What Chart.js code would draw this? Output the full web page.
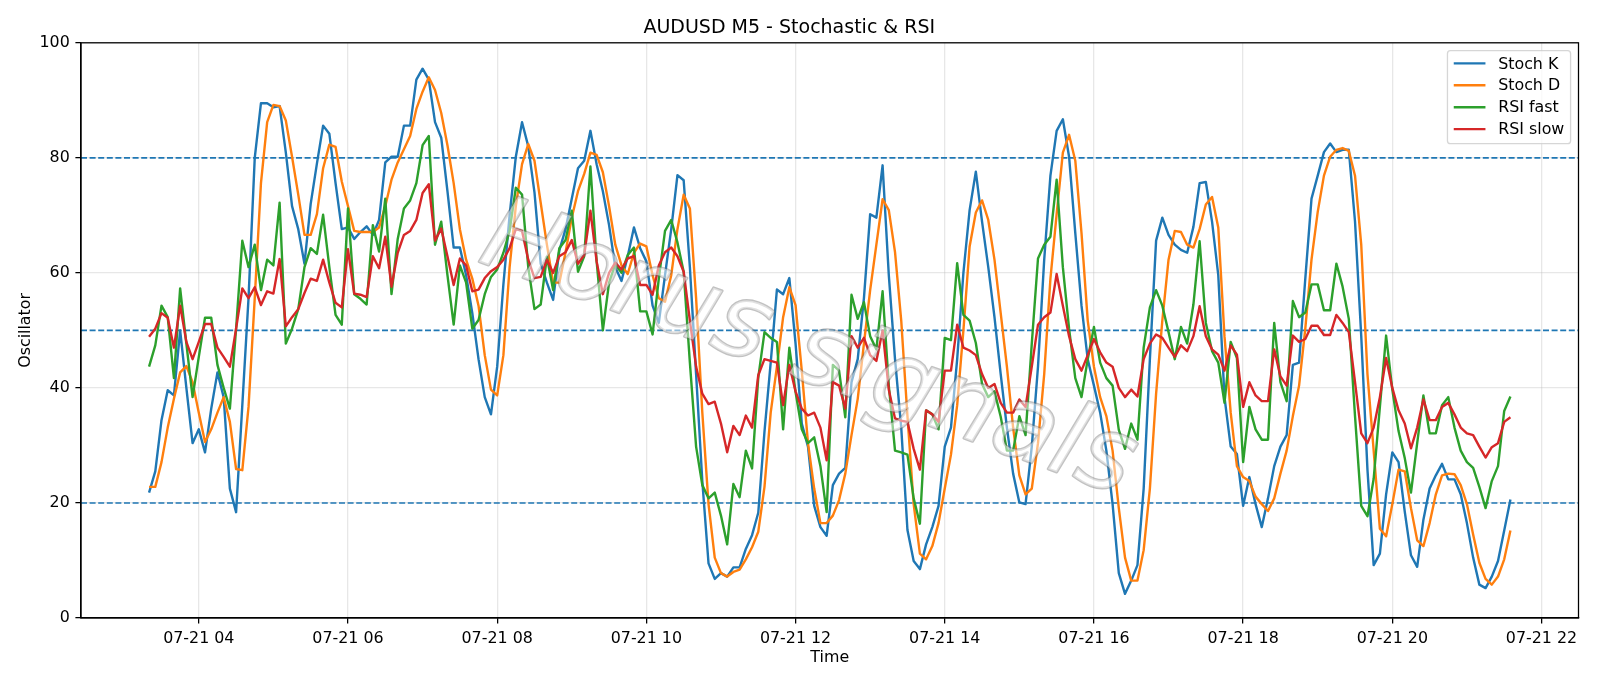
<!DOCTYPE html>
<html>
<head>
<meta charset="utf-8">
<title>AUDUSD M5 - Stochastic & RSI</title>
<script src="https://cdn.jsdelivr.net/npm/chart.js@4.4.1/dist/chart.umd.min.js"></script>
<style>
  html, body { margin: 0; padding: 0; background: #fff; }
  #wrap { width: 1600px; height: 686px; }
</style>
</head>
<body>
<div id="wrap"><canvas id="oscChart" width="1600" height="686"></canvas></div>
<script>
// 5 minute bars, first bar 07-21 03:20
const startHour = 3 + 20 / 60;
const barMinutes = 5;

const stochK = [
    21.8, 25.5, 34.4, 39.6, 38.7, 50, 40, 30.4, 32.8, 28.8,
    36.4, 42.7, 38.4, 22.5, 18.4, 37, 55.6, 80, 89.5, 89.5,
    88.8, 89, 80.9, 71.6, 67.6, 61.6, 72, 79, 85.6, 84.2,
    75.6, 67.6, 67.9, 65.9, 67.1, 68.1, 66.6, 69.2, 79.2, 80.2,
    80.2, 85.6, 85.6, 93.6, 95.5, 93.6, 86.2, 83.5, 74.2, 64.4,
    64.4, 59.6, 53, 45, 38.4, 35.4, 43.7, 58, 70, 80.2,
    86.2, 82, 74, 61.6, 58.3, 55.3, 63.9, 67.6, 72.9, 78.2,
    79.5, 84.7, 78.9, 74.2, 68.3, 61, 58.6, 62.9, 67.9, 64.3,
    62, 54.3, 51.3, 59.6, 67.6, 77, 76.1, 61, 42.4, 23.8,
    9.5, 6.8, 7.8, 7.2, 8.8, 8.8, 12, 14.4, 18.3, 32.4,
    44.4, 57.1, 56.3, 59.1, 47.7, 33.8, 29.8, 19.5, 15.8, 14.3,
    23.1, 25.1, 26.1, 41, 45, 55.6, 70.2, 69.6, 78.7, 59.6,
    45, 33.1, 15.3, 9.9, 8.5, 12.8, 15.8, 19.5, 29.8, 33.1,
    45, 60, 70.9, 77.6, 68.9, 61, 52.3, 42.4, 33.1, 25.1,
    20.1, 19.8, 29.8, 43.7, 62.3, 76.9, 84.7, 86.7, 80.2, 66.9,
    54.3, 45, 40.4, 35.7, 29.1, 19.8, 7.8, 4.2, 6.5, 9.2,
    22.5, 45, 65.6, 69.6, 66.6, 64.9, 64, 63.5, 68, 75.6,
    75.8, 68.9, 59.6, 38.4, 29.8, 28.5, 19.5, 24.5, 19.8, 15.8,
    20.8, 26.4, 29.8, 31.8, 44, 44.4, 59, 72.9, 76.9, 81,
    82.5, 81, 81.4, 81.4, 68.9, 49, 25.8, 9.2, 11.2, 21.5,
    28.8, 27.1, 18.5, 10.9, 8.9, 17.1, 22.5, 24.8, 26.8, 24.1,
    24.1, 21.5, 16.5, 10.5, 5.8, 5.2, 7.2, 9.9, 15.2, 20.6
];

const stochD = [
    22.8, 22.8, 27.1, 33.1, 38.1, 42.7, 43.8, 41, 35.7, 30.6,
    32.8, 35.7, 38.4, 34.1, 25.9, 25.7, 36.7, 55.6, 75.6, 86.2,
    89.2, 89, 86.5, 80.2, 73.6, 66.6, 66.6, 70.2, 78.2, 82.3,
    81.9, 75.9, 71.6, 67.3, 67.1, 67.1, 67.1, 67.9, 71.6, 76.2,
    79.2, 81.5, 83.8, 88.5, 91.5, 94, 91.8, 87.8, 82.2, 75.6,
    67.6, 62.3, 59, 54.3, 45.7, 39.7, 38.7, 45.7, 61, 71.6,
    78.9, 82.4, 79.5, 72.2, 64.9, 58.3, 58.3, 63.6, 69.6, 74.2,
    77.2, 80.9, 80.5, 77.5, 71.6, 64.9, 61.3, 59.8, 63.5, 65.1,
    64.6, 59.6, 55.6, 55, 59.6, 67.6, 73.6, 71.2, 55.6, 35.7,
    19.8, 10.5, 7.8, 7.2, 8, 8.4, 10.2, 12.3, 15, 22.8,
    35.7, 43.7, 52.3, 57.5, 54.4, 43, 30.4, 22.5, 16.5, 16.5,
    17.8, 20.5, 25.1, 31.8, 38.1, 47.7, 57, 64.9, 72.8, 70.9,
    63.6, 51.7, 35.1, 19.8, 11.2, 10.2, 12.5, 16.5, 22.5, 28.4,
    37, 50, 64.6, 70.5, 72.6, 69.2, 62.3, 53, 43.7, 33.1,
    24.8, 21.5, 22.5, 30.4, 42.4, 59, 70.2, 80.9, 84, 79.5,
    66.9, 51.7, 43.7, 38.4, 35.1, 29.1, 19.1, 10.5, 6.5, 6.5,
    11.8, 22.5, 39, 51.7, 62.3, 67.3, 67.1, 64.9, 64.4, 67.6,
    71.9, 73.2, 67.9, 49, 35.7, 26.4, 24.5, 23.8, 21.1, 19.8,
    18.6, 20.8, 25.1, 29.1, 35.1, 40.4, 50.3, 62.3, 70.6, 76.9,
    80.2, 81.4, 81.7, 81.2, 76.9, 64.9, 42.4, 29.1, 15.5, 14.2,
    19.8, 25.8, 25.5, 19.1, 13.5, 12.5, 16.5, 21.5, 24.8, 25.1,
    25, 23.1, 19.8, 14.5, 9.6, 6.8, 5.8, 7.2, 10.2, 15.2
];

const rsiFast = [
    43.7, 47.4, 54.3, 52.3, 41.7, 57.3, 47.7, 38.4, 45.4, 52.2,
    52.2, 44, 40, 36.4, 50.3, 65.6, 61, 64.9, 57, 62.3,
    61.3, 72.2, 47.7, 50.3, 53.7, 61, 64.3, 63.3, 70.1, 61,
    52.7, 51, 71.2, 56.3, 55.5, 54.5, 68.3, 63.7, 72.9, 56.3,
    65.9, 71.2, 72.6, 75.6, 82.2, 83.8, 64.9, 68.9, 59.6, 51,
    61.3, 58.3, 50.3, 51.8, 56.3, 59.3, 60.6, 63.5, 67.3, 74.8,
    73.6, 61, 53.7, 54.5, 62.8, 57, 64.3, 65.7, 70.8, 60.2,
    62.9, 78.5, 62, 50, 58.3, 61.5, 60, 63.1, 64.4, 53.3,
    53.3, 49.3, 59, 67.3, 69.2, 65.3, 60.2, 44.4, 29.8, 23.1,
    20.8, 21.8, 17.8, 12.8, 23.3, 21, 29.1, 26, 41.8, 49.7,
    48.7, 48, 32.8, 47, 39.3, 32.8, 30.4, 31.4, 26.4, 18.4,
    44, 43, 34.9, 56.2, 52, 54.9, 49, 46.7, 56.8, 40.4,
    29.1, 28.8, 28.4, 20.8, 16.4, 36.1, 35.4, 32.8, 48.7, 48.3,
    61.7, 52.7, 51.7, 47.8, 40.7, 38.4, 39.4, 35, 29.1, 29.1,
    35.1, 31.8, 47.7, 62.5, 64.9, 66.3, 76.2, 61, 50.3, 41.7,
    38.4, 45, 50.6, 44.4, 41.7, 40.4, 32.7, 29.4, 33.8, 31,
    47, 54, 57, 54.3, 49.7, 45, 50.6, 47.7, 54.5, 65.5,
    51.3, 46.4, 44.4, 37.4, 48, 45.2, 27.1, 36.7, 32.8, 31,
    31, 51.3, 41, 37.7, 55.1, 52.3, 53.1, 58, 58, 53.5,
    53.5, 61.6, 57.6, 52, 35.1, 19.5, 17.7, 24.2, 36.7, 49.1,
    39.7, 32.5, 27.8, 21.8, 30.4, 38.7, 32.1, 32.1, 37, 38.4,
    33.1, 29.1, 27.1, 26.1, 22.8, 19.1, 23.8, 26.4, 36, 38.5
];

const rsiSlow = [
    48.9, 50.3, 53, 52.2, 47, 54.3, 48, 45, 48, 51.1,
    51.1, 47, 45.4, 43.7, 50.3, 57.3, 55.6, 57.5, 54.4, 56.8,
    56.4, 62.4, 50.7, 52.3, 53.7, 56.5, 59, 58.6, 62.3, 58.3,
    54.8, 54, 64.1, 56.4, 56.2, 55.8, 62.9, 60.8, 66.3, 57.6,
    63.5, 66.6, 67.3, 69.2, 73.9, 75.4, 65.6, 67.7, 62.9, 57.9,
    62.5, 61.3, 56.8, 57.1, 59.1, 60.3, 61, 62.3, 64.3, 67.6,
    67.3, 62.3, 59.1, 59.3, 62.3, 60, 62.9, 63.6, 65.7, 61.6,
    63.1, 70.8, 62, 56.3, 60, 61.8, 60.6, 62.5, 62.9, 57.9,
    57.9, 56.2, 61.3, 63.6, 64.4, 62.9, 60.2, 51.7, 43.7, 39,
    37.2, 37.6, 33.8, 28.8, 33.4, 31.8, 35.2, 33.1, 42.2, 45,
    44.7, 44.4, 37, 44, 39.4, 36.4, 35.2, 35.7, 33.1, 27.4,
    41, 40.4, 36.4, 49, 47, 48.7, 45.7, 44.7, 50, 39.7,
    34.7, 34.3, 34.1, 29.4, 25.8, 36.1, 35.4, 34.1, 43, 43,
    51, 47, 46.5, 45.7, 42.4, 40, 40.7, 37.4, 35.7, 35.7,
    38, 36.7, 43.7, 51, 52.3, 53.1, 59.8, 54.3, 49, 45,
    43, 45.7, 48.5, 46.2, 44.4, 43.7, 40, 38.4, 39.7, 38.5,
    45, 47.7, 49.3, 48.7, 47, 45.4, 47.4, 46.4, 49, 54.2,
    49, 46.7, 45.8, 43, 47.4, 45.8, 36.7, 41, 38.7, 37.7,
    37.7, 46.7, 42, 40.4, 49.1, 48, 48.5, 50.8, 50.8, 49.2,
    49.2, 52.7, 51.3, 49.7, 41, 32.1, 30.4, 33.1, 38.4, 45.2,
    40, 36.1, 33.8, 29.5, 33.1, 38, 34.4, 34.4, 36.7, 37.4,
    35.4, 33.1, 32.1, 31.8, 29.8, 27.9, 29.7, 30.4, 34.1, 34.9
];

const levels = [20, 50, 80];
const xTickHours = [4, 6, 8, 10, 12, 14, 16, 18, 20, 22];
const xTickLabels = ['07-21 04', '07-21 06', '07-21 08', '07-21 10', '07-21 12',
                     '07-21 14', '07-21 16', '07-21 18', '07-21 20', '07-21 22'];

const FONT = '"DejaVu Sans", "Liberation Sans", sans-serif';
const GRID = 'rgba(176, 176, 176, 0.3)';

// bar index -> hour of day
function toPoints(values) {
    return values.map((v, i) => ({ x: startHour + i * barMinutes / 60, y: v }));
}

// same 5% side margins matplotlib puts around the data
const lastHour = startHour + (stochK.length - 1) * barMinutes / 60;
const margin = (lastHour - startHour) * 0.05;
const xMin = startHour - margin;
const xMax = lastHour + margin;

const series = [
    { label: 'Stoch K', values: stochK, color: '#1f77b4' },
    { label: 'Stoch D', values: stochD, color: '#ff7f0e' },
    { label: 'RSI fast', values: rsiFast, color: '#2ca02c' },
    { label: 'RSI slow', values: rsiSlow, color: '#d62728' }
];

const datasets = series.map((s, i) => ({
    label: s.label,
    inLegend: true,
    data: toPoints(s.values),
    borderColor: s.color,
    backgroundColor: s.color,
    borderWidth: 2.4,
    borderJoinStyle: 'round',
    pointRadius: 0,
    tension: 0,
    order: series.length - i // later series on top, like matplotlib
}));

// dashed overbought / middle / oversold lines
levels.forEach(level => {
    datasets.push({
        label: 'level ' + level,
        inLegend: false,
        data: [{ x: xMin, y: level }, { x: xMax, y: level }],
        borderColor: '#1f77b4',
        borderWidth: 1.6,
        borderDash: [6, 2.6],
        pointRadius: 0,
        order: 10
    });
});

// box around the plot (top and right spines)
const frame = {
    id: 'frame',
    afterDatasetsDraw(chart) {
        const { ctx, chartArea: a } = chart;
        ctx.save();
        ctx.strokeStyle = '#000';
        ctx.lineWidth = 1.27;
        ctx.strokeRect(a.left, a.top, a.right - a.left, a.bottom - a.top);
        ctx.restore();
    }
};

// matplotlib style legend in the upper right corner
const legendBox = {
    id: 'legendBox',
    afterDraw(chart) {
        const { ctx, chartArea: a } = chart;
        const items = chart.data.datasets.filter(d => d.inLegend);
        const size = 15.87;
        ctx.save();
        ctx.font = size + 'px ' + FONT;
        const textW = Math.max(...items.map(d => ctx.measureText(d.label).width));
        const pad = 6.3, handle = 31.7, gap = 12.7, rowH = 21.9;
        const w = pad + handle + gap + textW + pad;
        const h = 12.7 + (items.length - 1) * rowH + 14.6;
        const right = a.right - 7.9;
        const left = right - w;
        const top = a.top + 7.9;

        ctx.beginPath();
        ctx.roundRect(left, top, w, h, 3);
        ctx.fillStyle = 'rgba(255, 255, 255, 0.8)';
        ctx.fill();
        ctx.strokeStyle = 'rgba(204, 204, 204, 0.8)';
        ctx.lineWidth = 1.3;
        ctx.stroke();

        items.forEach((d, i) => {
            const y = top + 12.7 + i * rowH;
            ctx.beginPath();
            ctx.moveTo(left + pad, y);
            ctx.lineTo(left + pad + handle, y);
            ctx.strokeStyle = d.borderColor;
            ctx.lineWidth = 2.4;
            ctx.stroke();
            ctx.fillStyle = '#000';
            ctx.textBaseline = 'middle';
            ctx.fillText(d.label, left + pad + handle + gap, y + 1);
        });
        ctx.restore();
    }
};

// diagonal outlined watermark over the figure
const watermark = {
    id: 'watermark',
    afterDraw(chart) {
        const ctx = chart.ctx;
        ctx.save();
        ctx.translate(chart.width * 0.505, chart.height * 0.515);
        ctx.rotate(20 * Math.PI / 180);
        ctx.font = 'italic 102px ' + FONT;
        ctx.textAlign = 'center';
        ctx.textBaseline = 'middle';
        ctx.lineJoin = 'round';
        ctx.lineWidth = 2.8;
        ctx.strokeStyle = 'rgba(110, 110, 110, 0.42)';
        ctx.strokeText('Horus signals', 0, 0);
        ctx.fillStyle = 'rgba(255, 255, 255, 0.5)';
        ctx.fillText('Horus signals', 0, 0);
        ctx.restore();
    }
};

Chart.defaults.font.family = FONT;
Chart.defaults.font.size = 15.87;
Chart.defaults.color = '#000';

new Chart(document.getElementById('oscChart'), {
    type: 'line',
    data: { datasets: datasets },
    plugins: [frame, legendBox, watermark],
    options: {
        responsive: false,
        animation: false,
        devicePixelRatio: 1,
        layout: { padding: { left: 0, right: 21.5, top: 0, bottom: 0 } },
        plugins: {
            legend: { display: false },
            tooltip: { enabled: false },
            title: {
                display: true,
                text: 'AUDUSD M5 - Stochastic & RSI',
                color: '#000',
                font: { size: 19, weight: 'normal' },
                padding: { top: 17, bottom: 3 }
            }
        },
        scales: {
            x: {
                type: 'linear',
                min: xMin,
                max: xMax,
                afterFit: scale => { scale.height = 68; },
                ticks: {
                    stepSize: 2,
                    includeBounds: false,
                    autoSkip: false,
                    maxRotation: 0,
                    padding: 5.6,
                    callback: value => {
                        const k = xTickHours.indexOf(value);
                        return k >= 0 ? xTickLabels[k] : '';
                    }
                },
                grid: { color: GRID, lineWidth: 1.27, tickColor: '#000', tickLength: 5.6, tickWidth: 1.27 },
                border: { color: '#000', width: 1.27 },
                title: { display: true, text: 'Time', padding: { top: 0, bottom: 18.5 } }
            },
            y: {
                min: 0,
                max: 100,
                afterFit: scale => { scale.width = 81; },
                ticks: { stepSize: 20, padding: 5.6 },
                grid: { color: GRID, lineWidth: 1.27, tickColor: '#000', tickLength: 5.6, tickWidth: 1.27 },
                border: { color: '#000', width: 1.27 },
                title: { display: true, text: 'Oscillator', padding: { top: 16, bottom: 0 } }
            }
        }
    }
});
</script>
</body>
</html>
